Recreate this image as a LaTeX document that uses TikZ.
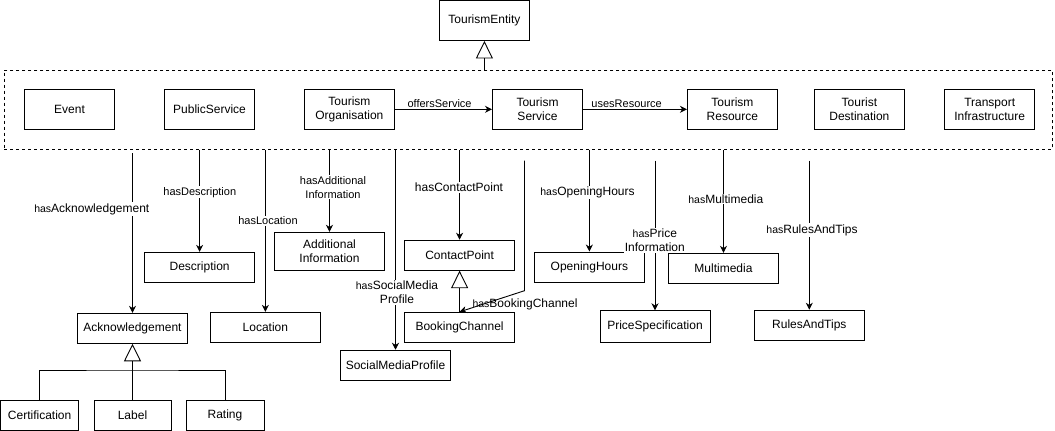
\documentclass[tikz,border=0pt]{standalone}
\usepackage{fontspec}
\setmainfont{Liberation Sans}
\usetikzlibrary{arrows.meta}
\newcommand\hasp{{\fontsize{10.5}{14}\selectfont has}}
\begin{document}
\begin{tikzpicture}[x=1pt,y=-1pt,
  box/.style={draw,line width=0.9pt,fill=white,align=center,inner sep=0pt,font=\fontsize{12}{14}\selectfont},
  rowbox/.style={box,minimum width=90pt,minimum height=40pt},
  sbox/.style={box,minimum width=110pt,minimum height=30pt},
  cbox/.style={box,minimum width=78pt,minimum height=30pt},
  conn/.style={line width=0.9pt,-{Stealth[length=7pt,width=7pt,inset=2.2pt]}},
  inh/.style={line width=0.9pt,-{Triangle[open,length=17.5pt,width=17pt]}},
  plain/.style={line width=0.9pt},
  lbl/.style={fill=white,inner sep=1pt,align=center,font=\fontsize{12}{14}\selectfont},
  lbls/.style={lbl,font=\fontsize{11}{14}\selectfont},
  elbl/.style={inner sep=1.5pt,font=\fontsize{11}{14}\selectfont},
]
\useasboundingbox (0,0) rectangle (1055,431);

% container
\node[draw,line width=0.9pt,dash pattern=on 3pt off 3pt,minimum width=1048pt,minimum height=79.3pt,inner sep=0pt] (cont) at (528,109.65) {};

% top class
\node[rowbox] (ent) at (484.4,20.5) {TourismEntity};

% row of classes
\node[rowbox] (event) at (69.5,109.3) {Event};
\node[rowbox] (pub) at (209.5,109.3) {PublicService};
\node[rowbox] (org) at (349.4,109.3) {Tourism\\Organisation};
\node[rowbox] (serv) at (537.5,109.3) {Tourism\\Service};
\node[rowbox] (res) at (732.4,109.3) {Tourism\\Resource};
\node[rowbox] (dest) at (859.4,109.3) {Tourist\\Destination};
\node[rowbox] (trans) at (989.7,109.3) {Transport\\Infrastructure};

% lower classes
\node[sbox] (desc) at (199.6,267.3) {Description};
\node[sbox] (loc) at (265.4,327.3) {Location};
\node[sbox,minimum height=38.5pt] (addi) at (329.5,251.5) {Additional\\Information};
\node[sbox] (smp) at (395.5,365.2) {SocialMediaProfile};
\node[sbox] (cp) at (459.6,255.2) {ContactPoint};
\node[sbox] (book) at (459.6,327.3) {BookingChannel};
\node[sbox] (open) at (589.4,267) {OpeningHours};
\node[sbox,minimum height=31.5pt] (price) at (655,326.5) {PriceSpecification};
\node[sbox] (mm) at (723.5,268.3) {Multimedia};
\node[sbox] (rules) at (809.3,325.2) {RulesAndTips};
\node[sbox] (ack) at (132.5,328.3) {Acknowledgement};
\node[cbox] (cert) at (39.6,415.3) {Certification};
\node[cbox,minimum width=77pt] (lab) at (132.5,415.3) {Label};
\node[cbox] (rat) at (225,415.3) {Rating};

% free ends
\coordinate (ackS) at (132.5,153.3);
\coordinate (bookS) at (524.5,160.7);
\coordinate (bookB) at (524.5,290.7);
\coordinate (priceS) at (655,160.7);
\coordinate (rulesS) at (809.3,160.7);
\coordinate (bar) at (0,370);

% generalisations
\draw[inh] (ent.south |- cont.north) -- (ent);
\draw[inh] (lab) -- (ack);
\draw[plain] (cert.north) |- (bar -| lab.north) -| (rat.north);
\draw[inh] (book) -- (cp);

% horizontal properties
\draw[conn] (org) -- node[pos=0.46,above,elbl] (lOffers) {offersService} (serv);
\draw[conn] (serv) -- node[pos=0.42,above,elbl] (lUses) {usesResource} (res);

% vertical properties
\draw[conn] (ackS) -- (ack);
\draw[conn] (desc.north |- cont.south) -- (desc);
\draw[conn] (loc.north |- cont.south) -- (loc);
\draw[conn] (addi.north |- cont.south) -- (addi);
\draw[conn] (smp.north |- cont.south) -- (smp);
\draw[conn] (cp.north |- cont.south) -- (cp);
\draw[conn] (bookS) -- (bookB) -- (book.north);
\draw[conn] (open.north |- cont.south) -- (open);
\draw[conn] (priceS) -- (price);
\draw[conn] (mm.north |- cont.south) -- (mm);
\draw[conn] (rulesS) -- (rules);

% labels
\node[lbl] (lAck) at (91.8,209) {\hasp Acknowledgement};
\node[lbls] (lDesc) at (199.8,192.3) {hasDescription};
\node[lbls] (lLoc) at (268,221) {hasLocation};
\node[lbls] (lAddi) at (333,187.3) {hasAdditional\\Information};
\node[lbl] (lCP) at (459,187.7) {hasContactPoint};
\node[lbl] (lSMP) at (397,292.2) {\hasp SocialMedia\\Profile};
\node[lbl,fill=none] (lBook) at (525,304.5) {\hasp BookingChannel};
\node[lbl] (lOpen) at (587.5,192.7) {\hasp OpeningHours};
\node[lbl] (lPrice) at (654.8,240.5) {\hasp Price\\Information};
\node[lbl] (lMM) at (725.8,199) {\hasp Multimedia};
\node[lbl] (lRules) at (812,230) {\hasp RulesAndTips};
\end{tikzpicture}
\end{document}
